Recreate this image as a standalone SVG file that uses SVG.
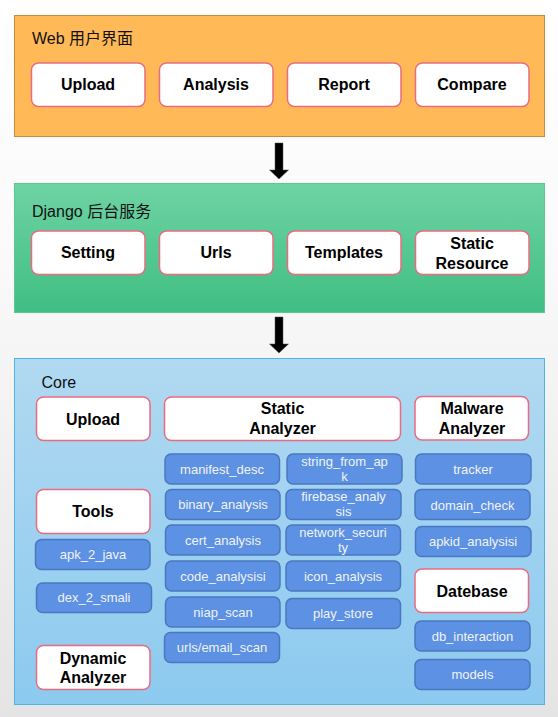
<svg xmlns="http://www.w3.org/2000/svg" width="558" height="717" viewBox="0 0 558 717">
<defs>
<linearGradient id="bg" x1="0" y1="0" x2="0" y2="1"><stop offset="0" stop-color="#ffffff"/><stop offset="0.35" stop-color="#fafafa"/><stop offset="1" stop-color="#e4e4e4"/></linearGradient>
<linearGradient id="gGreen" x1="0" y1="0" x2="0" y2="1"><stop offset="0" stop-color="#6ed3a3"/><stop offset="1" stop-color="#40be83"/></linearGradient>
<linearGradient id="gBlue" x1="0" y1="0" x2="0" y2="1"><stop offset="0" stop-color="#b1d9f1"/><stop offset="1" stop-color="#8ccaef"/></linearGradient>
<style>
text{font-family:"Liberation Sans","Noto Sans CJK SC",Arial,sans-serif}
.title{font-size:16px;fill:#111}
.wn rect{fill:#fff;stroke:#ea6b80;stroke-width:1.5}
.wn text{font-size:16px;font-weight:bold;fill:#000;text-anchor:middle}
.bn rect{fill:#5c91e3;stroke:#4a78c0;stroke-width:1.5}
.bn text{font-size:13px;fill:#f1f3f7;text-anchor:middle}
.arrow{fill:#000;stroke:#555;stroke-width:0.5}
</style>
</defs>
<rect x="0" y="0" width="558" height="717" fill="url(#bg)"/>

<g id="web-layer">
<rect x="14.5" y="15.5" width="530" height="121" fill="#ffb957" stroke="#c78c3e" stroke-width="1"/>
<text class="title" x="32" y="44">Web 用户界面</text>
</g>
<g id="web-upload" class="wn"><rect x="31.5" y="63" width="113.5" height="43.5" rx="7"/><text x="88" y="90">Upload</text></g>
<g id="web-analysis" class="wn"><rect x="159.5" y="63" width="113.5" height="43.5" rx="7"/><text x="216" y="90">Analysis</text></g>
<g id="web-report" class="wn"><rect x="287.5" y="63" width="113.5" height="43.5" rx="7"/><text x="344" y="90">Report</text></g>
<g id="web-compare" class="wn"><rect x="415.5" y="63" width="113.5" height="43.5" rx="7"/><text x="472" y="90">Compare</text></g>

<g id="django-layer">
<rect x="14.5" y="183.5" width="530" height="129" fill="url(#gGreen)" stroke="#5cc993" stroke-width="1"/>
<text class="title" x="32" y="217">Django 后台服务</text>
</g>
<g id="dj-setting" class="wn"><rect x="31.5" y="231" width="113.5" height="43.5" rx="7"/><text x="88" y="258">Setting</text></g>
<g id="dj-urls" class="wn"><rect x="159.5" y="231" width="113.5" height="43.5" rx="7"/><text x="216" y="258">Urls</text></g>
<g id="dj-templates" class="wn"><rect x="287.5" y="231" width="113.5" height="43.5" rx="7"/><text x="344" y="258">Templates</text></g>
<g id="dj-static" class="wn"><rect x="415.5" y="231" width="113.5" height="43.5" rx="7"/><text x="472" y="249">Static</text><text x="472" y="269">Resource</text></g>

<g id="core-layer">
<rect x="14.5" y="358.5" width="530" height="346" fill="url(#gBlue)" stroke="#4fb3e6" stroke-width="1"/>
<text class="title" x="41.5" y="388">Core</text>
</g>

<g id="core-upload" class="wn"><rect x="36.5" y="397" width="113.5" height="43.5" rx="7"/><text x="93" y="425">Upload</text></g>
<g id="core-static" class="wn"><rect x="164.5" y="397" width="236" height="43.5" rx="7"/><text x="282.5" y="414">Static</text><text x="282.5" y="434">Analyzer</text></g>
<g id="core-malware" class="wn"><rect x="415" y="396.5" width="113.5" height="43.5" rx="7"/><text x="472" y="413.5">Malware</text><text x="472" y="433.5">Analyzer</text></g>
<g id="core-tools" class="wn"><rect x="36.5" y="489.5" width="113.5" height="44" rx="7"/><text x="93" y="517">Tools</text></g>
<g id="core-dynamic" class="wn"><rect x="36.5" y="645.5" width="113.5" height="44" rx="7"/><text x="93" y="663.5">Dynamic</text><text x="93" y="682.5">Analyzer</text></g>
<g id="core-database" class="wn"><rect x="415" y="569" width="113.5" height="43.5" rx="7"/><text x="472" y="597">Datebase</text></g>

<g id="apk_2_java" class="bn"><rect x="35.5" y="539.5" width="114.5" height="30" rx="6"/><text x="93" y="559">apk_2_java</text></g>
<g id="dex_2_smali" class="bn"><rect x="36.5" y="583" width="115" height="29.5" rx="6"/><text x="94" y="602">dex_2_smali</text></g>

<g id="manifest_desc" class="bn"><rect x="165" y="454" width="114.5" height="30" rx="6"/><text x="222" y="473.5">manifest_desc</text></g>
<g id="binary_analysis" class="bn"><rect x="165.5" y="489.5" width="114.5" height="30" rx="6"/><text x="223" y="509">binary_analysis</text></g>
<g id="cert_analysis" class="bn"><rect x="165.5" y="525" width="114.5" height="30" rx="6"/><text x="223" y="545">cert_analysis</text></g>
<g id="code_analysisi" class="bn"><rect x="165.5" y="561" width="114.5" height="30" rx="6"/><text x="223" y="581">code_analysisi</text></g>
<g id="niap_scan" class="bn"><rect x="165.5" y="597" width="114.5" height="30" rx="6"/><text x="223" y="617">niap_scan</text></g>
<g id="urls_email_scan" class="bn"><rect x="164.5" y="632.5" width="115" height="30" rx="6"/><text x="222" y="652">urls/email_scan</text></g>

<g id="string_from_apk" class="bn"><rect x="287" y="454" width="115" height="30" rx="6"/><text x="344.5" y="465.5">string_from_ap</text><text x="344.5" y="480.5">k</text></g>
<g id="firebase_analysis" class="bn"><rect x="286" y="489.5" width="115" height="30" rx="6"/><text x="343.5" y="500.5">firebase_analy</text><text x="343.5" y="515.5">sis</text></g>
<g id="network_security" class="bn"><rect x="286" y="525" width="114.5" height="30" rx="6"/><text x="343" y="536.5">network_securi</text><text x="343" y="551.5">ty</text></g>
<g id="icon_analysis" class="bn"><rect x="286" y="561" width="114.5" height="30" rx="6"/><text x="343" y="581">icon_analysis</text></g>
<g id="play_store" class="bn"><rect x="286" y="598.5" width="114.5" height="30" rx="6"/><text x="343" y="618">play_store</text></g>

<g id="tracker" class="bn"><rect x="415.5" y="454" width="115.5" height="30" rx="6"/><text x="473" y="474">tracker</text></g>
<g id="domain_check" class="bn"><rect x="415" y="489.5" width="115" height="30" rx="6"/><text x="472.5" y="509.5">domain_check</text></g>
<g id="apkid_analysisi" class="bn"><rect x="415.5" y="526.5" width="115.5" height="30" rx="6"/><text x="473" y="546">apkid_analysisi</text></g>
<g id="db_interaction" class="bn"><rect x="415" y="621" width="115" height="30" rx="6"/><text x="472.5" y="641">db_interaction</text></g>
<g id="models" class="bn"><rect x="415" y="659.5" width="115" height="30" rx="6"/><text x="472.5" y="679">models</text></g>

<g id="connectors">
<polygon class="arrow" points="275,143 283,143 283,170 288.5,170 279,179 269.5,170 275,170"/>
<polygon class="arrow" points="275,317 283,317 283,344 288.5,344 279,353 269.5,344 275,344"/>
</g>
</svg>
